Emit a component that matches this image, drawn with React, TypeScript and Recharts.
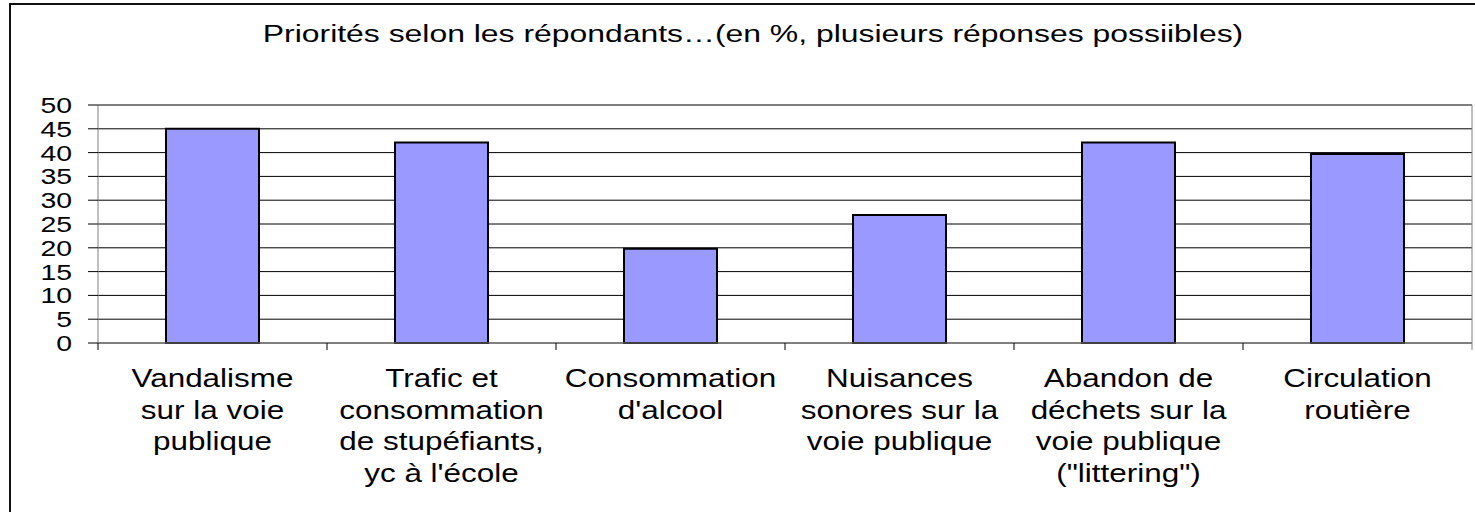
import { BarChart, Bar, XAxis, YAxis, CartesianGrid, ReferenceLine } from 'recharts';

// Priorités selon les répondants (en %)
const categoryLines = [
  ['Vandalisme', 'sur la voie', 'publique'],
  ['Trafic et', 'consommation', 'de stupéfiants,', "yc à l'école"],
  ['Consommation', "d'alcool"],
  ['Nuisances', 'sonores sur la', 'voie publique'],
  ['Abandon de', 'déchets sur la', 'voie publique', '("littering")'],
  ['Circulation', 'routière'],
];
const values = [45, 42.1, 19.8, 26.9, 42.1, 39.7];
const yTicks = [0, 5, 10, 15, 20, 25, 30, 35, 40, 45, 50];

const data = categoryLines.map((lines, i) => ({ name: lines.join(' '), value: values[i] }));

const W = 1475;
const H = 512;
const PLOT_LEFT = 98;
const PLOT_RIGHT = 3;
const PLOT_W = W - PLOT_LEFT - PLOT_RIGHT;
const FONT = '"Liberation Sans", Arial, sans-serif';

const CategoryTick = (props: any) => {
  const { x, y, index } = props;
  const lines = categoryLines[index] || [];
  const half = PLOT_W / categoryLines.length / 2;
  return (
    <g>
      <line x1={x - half} y1={y} x2={x - half} y2={y + 7} stroke="#000" />
      {index === categoryLines.length - 1 && (
        <line x1={x + half} y1={y} x2={x + half} y2={y + 7} stroke="#808080" />
      )}
      <g transform={`translate(${x},${y})`}>
        <text textAnchor="middle" fontSize={26} fontFamily={FONT} fill="#000" transform="scale(1.21,1)">
          {lines.map((l: string, i: number) => (
            <tspan key={i} x={0} y={44 + i * 31.6}>{l}</tspan>
          ))}
        </text>
      </g>
    </g>
  );
};

const ValueTick = (props: any) => {
  const { x, y, payload } = props;
  return (
    <g transform={`translate(${x},${y})`}>
      <text textAnchor="end" dy="0.36em" fontSize={22} fontFamily={FONT} fill="#000" transform="scale(1.29,1)">
        {payload.value}
      </text>
    </g>
  );
};

export default function App() {
  return (
    <div style={{ position: 'absolute', left: 0, top: 0, width: W, height: H, background: '#fff', overflow: 'hidden' }}>
      <div style={{ position: 'absolute', left: 9, top: 3, width: W - 9, height: H - 3, borderTop: '2px solid #111', borderLeft: '2px solid #111' }} />
      <svg width={W} height={60} style={{ position: 'absolute', left: 0, top: 0 }}>
        <g transform="translate(753,42)">
          <text textAnchor="middle" fontSize={24} fontFamily={FONT} fill="#000" transform="scale(1.33,1)">
            Priorités selon les répondants…(en %, plusieurs réponses possiibles)
          </text>
        </g>
      </svg>
      <div style={{ position: 'absolute', left: 0, top: 0 }}>
        <BarChart width={W} height={H} data={data} margin={{ top: 105, right: 0, left: 0, bottom: 9 }}>
          <CartesianGrid vertical={false} stroke="#000" yAxisId="l" />
          <XAxis dataKey="name" interval={0} height={160} tickLine={false} tickSize={0} tickMargin={0}
            axisLine={{ stroke: '#808080' }} tick={<CategoryTick />} />
          <YAxis yAxisId="l" domain={[0, 50]} ticks={yTicks} interval={0} width={PLOT_LEFT}
            tickSize={10} tickMargin={16} tickLine={{ stroke: '#000' }} axisLine={{ stroke: '#808080' }}
            tick={<ValueTick />} />
          <YAxis yAxisId="r" orientation="right" domain={[0, 50]} width={PLOT_RIGHT} tick={false}
            tickLine={false} axisLine={{ stroke: '#808080' }} />
          <ReferenceLine yAxisId="l" y={50} stroke="#808080" />
          <Bar yAxisId="l" dataKey="value" barSize={93} fill="#9999FF" stroke="#000" strokeWidth={2}
            isAnimationActive={false} />
        </BarChart>
      </div>
    </div>
  );
}
